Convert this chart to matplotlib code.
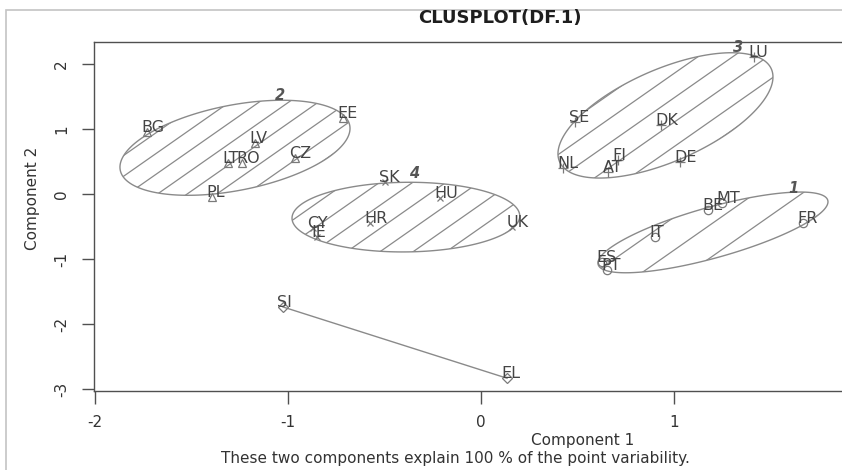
import numpy as np
import matplotlib.pyplot as plt
from matplotlib.patches import Polygon, Rectangle

# cluster members: country codes and their (Component 1, Component 2) scores
c1_names = ['BE', 'MT', 'FR', 'IT', 'ES', 'PT']
c1_x = [1.176, 1.249, 1.668, 0.902, 0.627, 0.653]
c1_y = [-0.25, -0.14, -0.445, -0.66, -1.045, -1.17]

c2_names = ['BG', 'EE', 'LV', 'LT', 'RO', 'CZ', 'PL']
c2_x = [-1.731, -0.715, -1.171, -1.311, -1.238, -0.964, -1.394]
c2_y = [0.95, 1.17, 0.78, 0.475, 0.475, 0.55, -0.05]

c3_names = ['LU', 'SE', 'DK', 'FI', 'NL', 'AT', 'DE']
c3_x = [1.415, 0.487, 0.933, 0.710, 0.425, 0.658, 1.031]
c3_y = [2.10, 1.105, 1.06, 0.52, 0.40, 0.34, 0.49]

c4_names = ['SK', 'HU', 'HR', 'CY', 'IE', 'UK']
c4_x = [-0.497, -0.212, -0.575, -0.870, -0.850, 0.161]
c4_y = [0.18, -0.06, -0.45, -0.52, -0.66, -0.51]

c5_names = ['SI', 'EL']
c5_x = [-1.026, 0.135]
c5_y = [-1.735, -2.83]

# ellipse per cluster: centre x, centre y, half x-range, half y-range, tilt phase
ell1 = [1.202, -0.59, 0.596, 0.62, 0.861]
ell2 = [-1.2745, 0.71, 0.596, 0.73, 0.42]
ell3 = [0.956, 1.2075, 0.557, 0.9625, 0.66]
ell4 = [-0.389, -0.355, 0.59, 0.535, 0.03]

# cluster number labels
num_labels = ['1', '2', '3', '4']
num_x = [1.617, -1.04, 1.33, -0.347]
num_y = [0.09, 1.52, 2.25, 0.32]

TXT = '#333333'
LINE = '#8a8a8a'

plt.rcParams['font.family'] = 'DejaVu Sans'
plt.rcParams['axes.unicode_minus'] = False

W, H = 842, 470
fig = plt.figure(figsize=(W / 100, H / 100), dpi=100)
fig.patches.append(Rectangle((6 / W, -0.1), 2, (H - 10) / H + 0.1, transform=fig.transFigure,
                             fill=False, edgecolor='#c4c4c4', lw=1.2))

ax_left, ax_top, ax_bot, ax_right = 94, 42, 391, 960
ax = fig.add_axes([ax_left / W, (H - ax_bot) / H, (ax_right - ax_left) / W, (ax_bot - ax_top) / H])
ax.set_xlim(-2.005, -2.005 + (ax_right - ax_left) / 193.0)
ax.set_ylim((194 - ax_bot) / 65.1, (194 - ax_top) / 65.1)
for s in ax.spines.values():
    s.set_color('#505050')
    s.set_linewidth(1.0)
ax.set_xticks([-2, -1, 0, 1])
ax.set_yticks([-3, -2, -1, 0, 1, 2])
ax.tick_params(direction='out', length=9, width=1.0, color='#505050',
               labelsize=11, labelcolor=TXT)
ax.tick_params(axis='x', pad=8)
ax.tick_params(axis='y', pad=9)
for lab in ax.get_yticklabels():
    lab.set_rotation(90)
    lab.set_va('center')


def ellipse_pts(e, n=200):
    t = np.linspace(0, 2 * np.pi, n)
    return np.column_stack([e[0] + e[2] * np.cos(t), e[1] + e[3] * np.sin(t + e[4])])


def shade(e, spacing, angle=35):
    pts = ellipse_pts(e)
    patch = Polygon(pts, closed=True, fill=False, edgecolor=LINE, lw=1.0, zorder=2)
    ax.add_patch(patch)
    disp = ax.transData.transform(pts)
    c = disp.mean(axis=0)
    a = np.deg2rad(angle)
    d = np.array([np.cos(a), np.sin(a)])
    nrm = np.array([-np.sin(a), np.cos(a)])
    proj = (disp - c) @ nrm
    L = np.abs(disp - c).max() * 2
    for o in np.arange(proj.min() - spacing, proj.max() + spacing, spacing):
        p0 = c + o * nrm - L * d
        p1 = c + o * nrm + L * d
        seg = ax.transData.inverted().transform(np.array([p0, p1]))
        ln, = ax.plot(seg[:, 0], seg[:, 1], color=LINE, lw=0.9, zorder=1)
        ln.set_clip_path(patch)


shade(ell1, 27)
shade(ell2, 17)
shade(ell3, 20)
shade(ell4, 19)

ax.plot(c5_x, c5_y, color=LINE, lw=1.0, zorder=2)

mk = dict(color='#7a7a7a', mfc='none', ls='none', zorder=3)
ax.plot(c1_x, c1_y, marker='o', ms=6, mew=0.9, **mk)
ax.plot(c2_x, c2_y, marker='^', ms=6, mew=0.9, **mk)
ax.plot(c3_x, c3_y, marker='+', ms=7, mew=0.9, **mk)
ax.plot(c4_x, c4_y, marker='x', ms=5, mew=0.9, **mk)
ax.plot(c5_x, c5_y, marker='D', ms=5, mew=0.9, **mk)

for names, xs, ys in [(c1_names, c1_x, c1_y), (c2_names, c2_x, c2_y), (c3_names, c3_x, c3_y),
                      (c4_names, c4_x, c4_y), (c5_names, c5_x, c5_y)]:
    for n, x, y in zip(names, xs, ys):
        ax.annotate(n, (x, y), xytext=(-4, 0), textcoords='offset points',
                    ha='left', va='baseline', fontsize=11.5, color='#444444', zorder=4)

for n, x, y in zip(num_labels, num_x, num_y):
    ax.text(x, y, n, ha='center', va='center', fontsize=10.5, style='italic',
            fontweight='bold', color='#555555', zorder=4)

fig.text(500 / W, 1 - 18 / H, 'CLUSPLOT(DF.1)', ha='center', va='center',
         fontsize=13, fontweight='bold', color='#1e1e1e')
fig.text(583 / W, 1 - 440 / H, 'Component 1', ha='center', va='center',
         fontsize=11, color=TXT)
fig.text(455 / W, 1 - 458 / H, 'These two components explain 100 % of the point variability.',
         ha='center', va='center', fontsize=11, color=TXT)
fig.text(32 / W, 1 - 198 / H, 'Component 2', ha='center', va='center', rotation=90,
         fontsize=11, color=TXT)

fig.savefig('out.png', dpi=100)
